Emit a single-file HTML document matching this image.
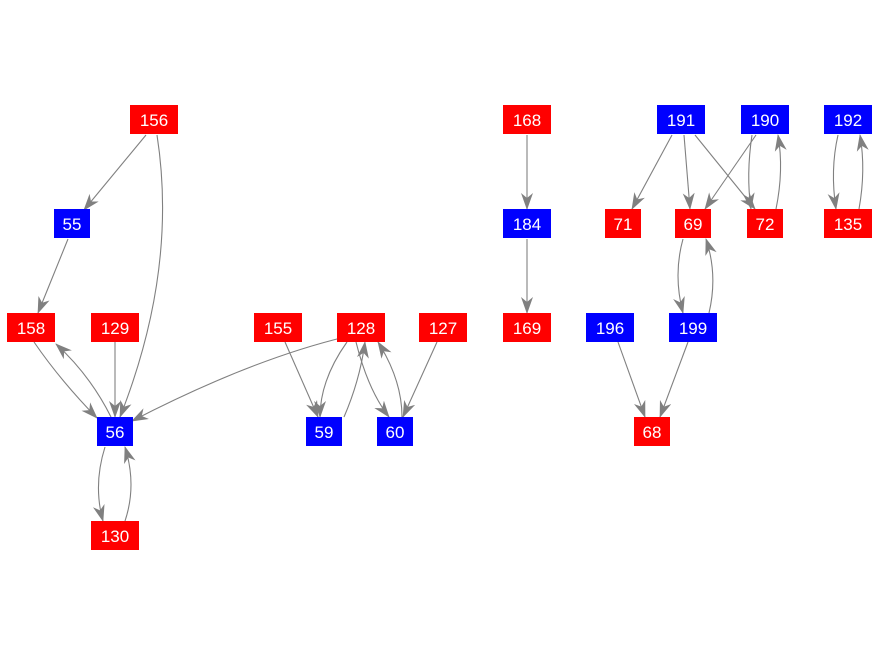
<!DOCTYPE html>
<html><head><style>
html,body{margin:0;padding:0;background:#fff;width:880px;height:656px;overflow:hidden}
text{font-family:"Liberation Sans",Arial,sans-serif;font-size:17px;fill:#fff;text-anchor:middle}
</style></head><body>
<svg width="880" height="656" xmlns="http://www.w3.org/2000/svg">
<defs><marker id="a" markerWidth="17" markerHeight="12" refX="16" refY="6" orient="auto" markerUnits="userSpaceOnUse"><path d="M0,0 L17,6 L0,12 L5,6 z" fill="#808080"/></marker></defs>
<g fill="none" stroke="#808080" stroke-width="1.1" marker-end="url(#a)">
<path d="M146,135 L84,210"/>
<path d="M157,135 Q178,270 120,417"/>
<path d="M68,239 L38,313"/>
<path d="M34,342 Q60,380 97,418"/>
<path d="M111,417 Q90,375 56,344"/>
<path d="M115,342 L115,417"/>
<path d="M345,337 Q250,360 132,421"/>
<path d="M105,447 Q93,485 103,521"/>
<path d="M125,521 Q137,485 125,447"/>
<path d="M285,342 L318,417"/>
<path d="M347,342 Q320,380 320,417"/>
<path d="M344,417 Q360,380 365,342"/>
<path d="M356,342 Q368,390 389,417"/>
<path d="M402,417 Q402,380 378,342"/>
<path d="M437,342 L403,417"/>
<path d="M527,135 L527,209"/>
<path d="M527,239 L527,313"/>
<path d="M672,135 L632,209"/>
<path d="M684,135 L690,209"/>
<path d="M695,135 L755,209"/>
<path d="M756,135 L705,209"/>
<path d="M752,135 Q746,175 751,209"/>
<path d="M776,209 Q784,170 778,135"/>
<path d="M838,135 Q830,170 836,209"/>
<path d="M859,209 Q866,170 860,135"/>
<path d="M683,239 Q673,275 683,313"/>
<path d="M709,313 Q718,275 706,239"/>
<path d="M618,342 L645,417"/>
<path d="M688,342 L660,417"/>
</g>
<g>
<rect x="130" y="105" width="48" height="29" fill="#f00"/><text x="154" y="126">156</text>
<rect x="54" y="209" width="36" height="29" fill="#00f"/><text x="72" y="230">55</text>
<rect x="7" y="313" width="48" height="29" fill="#f00"/><text x="31" y="334">158</text>
<rect x="91" y="313" width="48" height="29" fill="#f00"/><text x="115" y="334">129</text>
<rect x="97" y="417" width="36" height="29" fill="#00f"/><text x="115" y="438">56</text>
<rect x="91" y="521" width="48" height="29" fill="#f00"/><text x="115" y="542">130</text>
<rect x="254" y="313" width="48" height="29" fill="#f00"/><text x="278" y="334">155</text>
<rect x="337" y="313" width="48" height="29" fill="#f00"/><text x="361" y="334">128</text>
<rect x="419" y="313" width="48" height="29" fill="#f00"/><text x="443" y="334">127</text>
<rect x="306" y="417" width="36" height="29" fill="#00f"/><text x="324" y="438">59</text>
<rect x="377" y="417" width="36" height="29" fill="#00f"/><text x="395" y="438">60</text>
<rect x="503" y="105" width="48" height="29" fill="#f00"/><text x="527" y="126">168</text>
<rect x="503" y="209" width="48" height="29" fill="#00f"/><text x="527" y="230">184</text>
<rect x="503" y="313" width="48" height="29" fill="#f00"/><text x="527" y="334">169</text>
<rect x="657" y="105" width="48" height="29" fill="#00f"/><text x="681" y="126">191</text>
<rect x="741" y="105" width="48" height="29" fill="#00f"/><text x="765" y="126">190</text>
<rect x="824" y="105" width="48" height="29" fill="#00f"/><text x="848" y="126">192</text>
<rect x="605" y="209" width="36" height="29" fill="#f00"/><text x="623" y="230">71</text>
<rect x="675" y="209" width="36" height="29" fill="#f00"/><text x="693" y="230">69</text>
<rect x="747" y="209" width="36" height="29" fill="#f00"/><text x="765" y="230">72</text>
<rect x="824" y="209" width="48" height="29" fill="#f00"/><text x="848" y="230">135</text>
<rect x="586" y="313" width="48" height="29" fill="#00f"/><text x="610" y="334">196</text>
<rect x="669" y="313" width="48" height="29" fill="#00f"/><text x="693" y="334">199</text>
<rect x="634" y="417" width="36" height="29" fill="#f00"/><text x="652" y="438">68</text>
</g>
</svg>
</body></html>
